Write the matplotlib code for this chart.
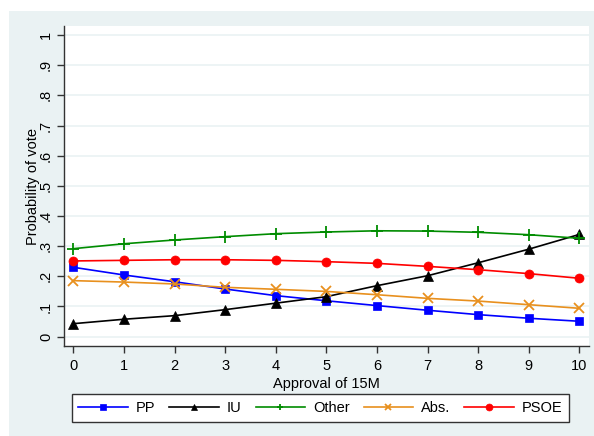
import matplotlib
matplotlib.use("Agg")
import matplotlib.pyplot as plt
from matplotlib.patches import Rectangle

plt.rcParams['font.family'] = ['Liberation Sans', 'DejaVu Sans']

x = list(range(11))
pp = [0.230, 0.2045, 0.182, 0.158, 0.136, 0.119, 0.103, 0.0875, 0.073, 0.061, 0.051]
iu = [0.043, 0.0577, 0.0696, 0.0895, 0.111, 0.1326, 0.169, 0.202, 0.245, 0.290, 0.339]
other = [0.2917, 0.308, 0.3205, 0.3315, 0.3414, 0.347, 0.351, 0.350, 0.346, 0.338, 0.326]
absn = [0.1857, 0.181, 0.1747, 0.1636, 0.157, 0.150, 0.139, 0.127, 0.118, 0.106, 0.094]
psoe = [0.251, 0.253, 0.255, 0.255, 0.253, 0.2486, 0.243, 0.233, 0.222, 0.209, 0.1935]
yticks = [0, .1, .2, .3, .4, .5, .6, .7, .8, .9, 1]
ylabels = ['0', '.1', '.2', '.3', '.4', '.5', '.6', '.7', '.8', '.9', '1']

W, H = 594, 436
fig = plt.figure(figsize=(W/100, H/100), dpi=100, facecolor='white')
bg = '#EAF2F3'
fig.patches.append(Rectangle((9/W, 0), 1 - 9/W, 1 - 11/H, transform=fig.transFigure,
                             facecolor=bg, edgecolor='none', zorder=-10))

left, right, top, bottom = 64, 589, 26, 346
ax = fig.add_axes([left/W, 1 - bottom/H, (right-left)/W, (bottom-top)/H])
ax.set_facecolor('white')

series = [
    ('PP', pp, '#0000FF', 's', 6.3),
    ('IU', iu, '#000000', '^', 6.8),
    ('Other', other, '#008C00', '+', 8),
    ('Abs.', absn, '#E8901E', 'x', 6.5),
    ('PSOE', psoe, '#FF0000', 'o', 6.5),
]
for name, vals, c, m, ms in series:
    ax.plot(x, vals, color=c, marker=m, markersize=ms, linewidth=1.2, label=name,
            markeredgewidth=1.3 if m in '+x' else 0.5, markeredgecolor=c, clip_on=False)

ax.set_xlim(-0.184, 10.19)
ax.set_ylim(-0.031, 1.03)
ax.set_xticks(x)
ax.set_yticks(yticks)
ax.set_yticklabels(ylabels, rotation=90, va='center')
ax.yaxis.grid(True, color=bg, linewidth=1.2)
ax.set_axisbelow(True)
for s in ['top', 'right']:
    ax.spines[s].set_visible(False)
for s in ['left', 'bottom']:
    ax.spines[s].set_color('#333333')
    ax.spines[s].set_linewidth(1.0)
ax.tick_params(axis='both', colors='#333333', labelcolor='black', labelsize=10.5,
               length=5, width=1.0, direction='out')
ax.tick_params(axis='x', pad=4)
ax.tick_params(axis='y', pad=3)
ax.set_xlabel('Approval of 15M', fontsize=10.5, labelpad=3)
ax.set_ylabel('Probability of vote', fontsize=10.5, labelpad=-1)

leg = fig.legend(loc='center', bbox_to_anchor=((69+572)/2/W, 1 - 408/H), ncol=5,
                 frameon=True, fancybox=False, fontsize=10.5, handlelength=3.4,
                 columnspacing=0.95, handletextpad=0.55, borderpad=0.45,
                 edgecolor='#333333', facecolor='white', framealpha=1)
leg.get_frame().set_linewidth(1.0)
for h in leg.legend_handles:
    h.set_markersize(5)

fig.savefig('out.png', dpi=100, facecolor=fig.get_facecolor())
